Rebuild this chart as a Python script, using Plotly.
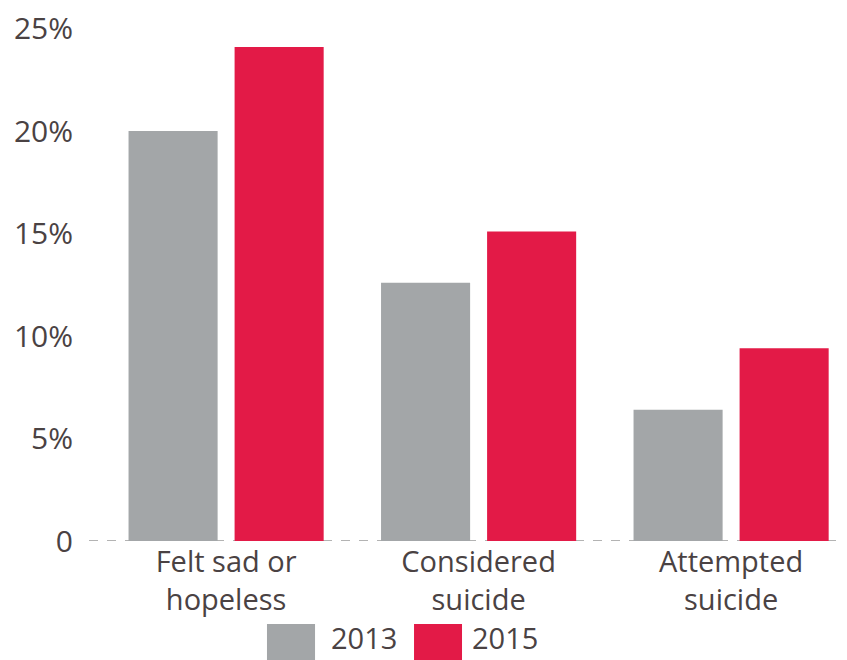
import plotly.graph_objects as go

categories = ["Felt sad or<br>hopeless", "Considered<br>suicide", "Attempted<br>suicide"]
series_names = ["2013", "2015"]
values_2013 = [20.0, 12.6, 6.4]
values_2015 = [24.1, 15.1, 9.4]
tick_vals = [0, 5, 10, 15, 20, 25]
tick_text = ["0", "5%", "10%", "15%", "20%", "25%"]

GRAY = "#a3a6a8"
RED = "#e31a47"
TEXT = "#4a4243"
FONT = "Open Sans"

fig = go.Figure()
fig.add_trace(go.Bar(x=categories, y=values_2013, name=series_names[0],
                     marker=dict(color=GRAY, line=dict(width=0))))
fig.add_trace(go.Bar(x=categories, y=values_2015, name=series_names[1],
                     marker=dict(color=RED, line=dict(width=0))))

# page has an 8px body margin, so figure is 839x652 to fill the 847x660 window
fig.update_layout(
    width=839, height=652,
    margin=dict(l=81, r=0, t=0, b=119),
    paper_bgcolor="white", plot_bgcolor="white",
    barmode="group", bargap=0.16, bargroupgap=0.16,
    showlegend=False,
    font=dict(family=FONT, color=TEXT, size=28),
    xaxis=dict(range=[-0.543, 2.459], showgrid=False, zeroline=False, showline=False,
               ticks="", tickfont=dict(size=29, color=TEXT), ticklabelstandoff=1),
    yaxis=dict(range=[0, 26], tickvals=tick_vals, ticktext=tick_text,
               showgrid=False, zeroline=False, showline=False, ticks="",
               tickfont=dict(size=30, color=TEXT), ticklabelstandoff=15,
               ticklabeloverflow="allow"),
)

# dashed baseline at zero
fig.add_shape(type="line", xref="paper", yref="y", x0=0, x1=1, y0=0, y1=0,
              line=dict(color="#9a9a9a", width=1.5, dash="dash"), layer="below")

# custom legend with large swatches (positions relative to plot area)
plot_h = 533.0
def py(page_y):
    return (541.0 - page_y) / plot_h

swatches = [(0.2348, 0.2982, GRAY, 0.3628, series_names[0]),
            (0.4288, 0.4921, RED, 0.5488, series_names[1])]
for x0, x1, col, tx, name in swatches:
    fig.add_shape(type="rect", xref="paper", yref="paper", x0=x0, x1=x1,
                  y0=py(660), y1=py(624), fillcolor=col, line=dict(width=0))
    fig.add_annotation(xref="paper", yref="paper", x=tx, y=py(637), text=name,
                       showarrow=False, font=dict(size=29, color=TEXT),
                       xanchor="center", yanchor="middle")

fig.write_html("out.html")
